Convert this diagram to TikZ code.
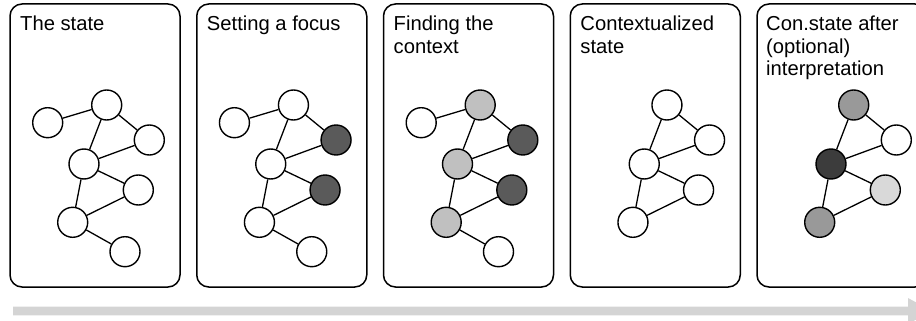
\documentclass[tikz,border=0pt]{standalone}
\usepackage{fontspec}
\setmainfont{Liberation Sans}
\definecolor{focusc}{HTML}{5A5A5A}
\definecolor{ctxc}{HTML}{C0C0C0}
\definecolor{midc}{HTML}{999999}
\definecolor{darkc}{HTML}{3C3C3C}
\definecolor{paleC}{HTML}{D9D9D9}
\definecolor{bandc}{HTML}{D4D4D4}
\tikzset{
  panel/.style={draw, line width=1.5pt, rounded corners=12pt},
  gnode/.style={circle, draw, line width=1.4pt, minimum size=30pt, inner sep=0pt, fill=white},
  gedge/.style={line width=1.3pt},
  title/.style={anchor=north west, font=\fontsize{20.2}{22.4}\selectfont, align=left, inner sep=0pt},
}
\begin{document}
\begin{tikzpicture}[x=1pt,y=-1pt]
\useasboundingbox (0,0) rectangle (916,321);
\clip (0,0) rectangle (916,321);

% panel 1
\begin{scope}[xshift=10pt]
\draw[panel] (0,4) rectangle (170,287);
\node[title] (t1) at (10,15) {\strut The state};
\node[gnode] (a1) at (37.7,122.7) {};
\node[gnode] (a2) at (96.7,105) {};
\node[gnode] (a3) at (139.3,140) {};
\node[gnode] (a4) at (74,164) {};
\node[gnode] (a5) at (128.3,190) {};
\node[gnode] (a6) at (62.7,222.3) {};
\node[gnode] (a7) at (115,251.7) {};
\draw[gedge] (a1)--(a2) (a2)--(a4) (a2)--(a3) (a3)--(a4) (a4)--(a5) (a4)--(a6) (a6)--(a5) (a6)--(a7);
\end{scope}

% panel 2
\begin{scope}[xshift=196.75pt]
\draw[panel] (0,4) rectangle (170,287);
\node[title] (t2) at (10,15) {\strut Setting a focus};
\node[gnode] (b1) at (37.7,122.7) {};
\node[gnode] (b2) at (96.7,105) {};
\node[gnode, fill=focusc] (b3) at (139.3,140) {};
\node[gnode] (b4) at (74,164) {};
\node[gnode, fill=focusc] (b5) at (128.3,190) {};
\node[gnode] (b6) at (62.7,222.3) {};
\node[gnode] (b7) at (115,251.7) {};
\draw[gedge] (b1)--(b2) (b2)--(b4) (b2)--(b3) (b3)--(b4) (b4)--(b5) (b4)--(b6) (b6)--(b5) (b6)--(b7);
\end{scope}

% panel 3
\begin{scope}[xshift=383.5pt]
\draw[panel] (0,4) rectangle (170,287);
\node[title] (t3) at (10,15) {\strut Finding the\\context};
\node[gnode] (c1) at (37.7,122.7) {};
\node[gnode, fill=ctxc] (c2) at (96.7,105) {};
\node[gnode, fill=focusc] (c3) at (139.3,140) {};
\node[gnode, fill=ctxc] (c4) at (74,164) {};
\node[gnode, fill=focusc] (c5) at (128.3,190) {};
\node[gnode, fill=ctxc] (c6) at (62.7,222.3) {};
\node[gnode] (c7) at (115,251.7) {};
\draw[gedge] (c1)--(c2) (c2)--(c4) (c2)--(c3) (c3)--(c4) (c4)--(c5) (c4)--(c6) (c6)--(c5) (c6)--(c7);
\end{scope}

% panel 4
\begin{scope}[xshift=570.25pt]
\draw[panel] (0,4) rectangle (170,287);
\node[title] (t4) at (10,15) {\strut Contextualized\\state};
\node[gnode] (d2) at (96.7,105) {};
\node[gnode] (d3) at (139.3,140) {};
\node[gnode] (d4) at (74,164) {};
\node[gnode] (d5) at (128.3,190) {};
\node[gnode] (d6) at (62.7,222.3) {};
\draw[gedge] (d2)--(d4) (d2)--(d3) (d3)--(d4) (d4)--(d5) (d4)--(d6) (d6)--(d5);
\end{scope}

% panel 5
\begin{scope}[xshift=757pt]
\draw[panel] (0,4) rectangle (170,287);
\node[title] (t5) at (9,15) {\strut Con.state after\\(optional)\\interpretation};
\node[gnode, fill=midc] (e2) at (96.7,105) {};
\node[gnode] (e3) at (139.3,140) {};
\node[gnode, fill=darkc] (e4) at (74,164) {};
\node[gnode, fill=paleC] (e5) at (128.3,190) {};
\node[gnode, fill=midc] (e6) at (62.7,222.3) {};
\draw[gedge] (e2)--(e4) (e2)--(e3) (e3)--(e4) (e4)--(e5) (e4)--(e6) (e6)--(e5);
\end{scope}

% time arrow
\fill[bandc] (13,306.7) -- (908,306.7) -- (908,298) -- (932,311) -- (908,324) -- (908,315.3) -- (13,315.3) -- cycle;
\end{tikzpicture}
\end{document}
